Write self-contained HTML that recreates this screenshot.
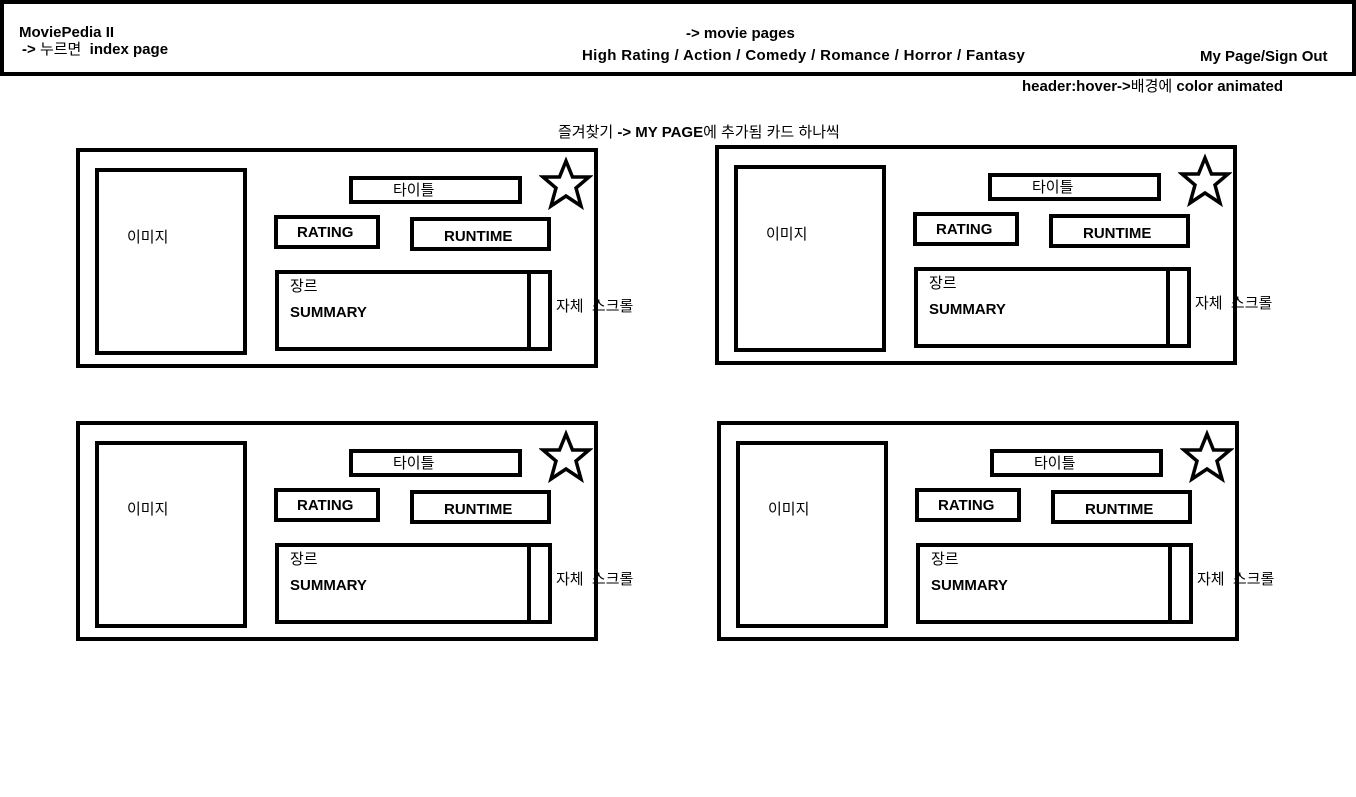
<!DOCTYPE html>
<html><head><meta charset="utf-8"><style>
body{margin:0;width:1356px;height:797px;background:#fff;position:relative;overflow:hidden;font-family:"Liberation Sans","Noto Sans CJK KR",sans-serif;font-weight:bold;color:#000}
.a{position:absolute;white-space:nowrap;font-size:15px;line-height:16px}
.b{position:absolute;border:4px solid #000;box-sizing:border-box}
.card{position:absolute;width:522px;height:220px}
.card .t{position:absolute;white-space:nowrap;font-size:15px;line-height:16px}
.card .n{font-weight:normal;font-size:15px}
</style></head><body>
<div class="b" style="left:0;top:0;width:1356px;height:76px"></div>
<div class="a" style="left:19px;top:25px">MoviePedia II</div>
<div class="a" style="left:22px;top:42px">-&gt; <span style="font-weight:normal">누르면</span>&nbsp; index page</div>
<div class="a" style="left:686px;top:26px">-&gt; movie pages</div>
<div class="a" style="left:582px;top:48px;letter-spacing:0.35px">High Rating / Action / Comedy / Romance / Horror / Fantasy</div>
<div class="a" style="left:1200px;top:49px">My Page/Sign Out</div>
<div class="a" style="left:1022px;top:79px">header:hover-&gt;<span style="font-weight:normal">배경에</span> color animated</div>
<div class="a" style="left:558px;top:125px"><span style="font-weight:normal">즐겨찾기</span> -&gt; MY PAGE<span style="font-weight:normal">에 추가됨 카드 하나씩</span></div>

<div class="card" style="left:76px;top:148px">
<div class="b" style="left:0;top:0;width:522px;height:220px"></div>
<div class="b" style="left:19px;top:20px;width:152px;height:187px"></div>
<div class="t n" style="left:51px;top:82px">이미지</div>
<div class="b" style="left:273px;top:28px;width:173px;height:28px"></div>
<div class="t n" style="left:317px;top:35px">타이틀</div>
<div class="b" style="left:198px;top:67px;width:106px;height:34px"></div>
<div class="t" style="left:221px;top:77px">RATING</div>
<div class="b" style="left:334px;top:69px;width:141px;height:34px"></div>
<div class="t" style="left:368px;top:81px">RUNTIME</div>
<div class="b" style="left:199px;top:122px;width:277px;height:81px"></div>
<div class="b" style="left:451px;top:122px;width:25px;height:81px"></div>
<div class="t n" style="left:214px;top:131px">장르</div>
<div class="t" style="left:214px;top:157px">SUMMARY</div>
<div class="t n" style="left:480px;top:151px">자체&nbsp; 스크롤</div>
<svg style="position:absolute;left:463px;top:8px" width="54" height="58" viewBox="-27 -29 54 58"><polygon points="0,-24 6.5,-8 23,-8 10,3 15,21 0,11 -15,21 -10,3 -23,-8 -6.5,-8" fill="none" stroke="#000" stroke-width="3.5"/></svg>
</div>

<div class="card" style="left:715px;top:145px">
<div class="b" style="left:0;top:0;width:522px;height:220px"></div>
<div class="b" style="left:19px;top:20px;width:152px;height:187px"></div>
<div class="t n" style="left:51px;top:82px">이미지</div>
<div class="b" style="left:273px;top:28px;width:173px;height:28px"></div>
<div class="t n" style="left:317px;top:35px">타이틀</div>
<div class="b" style="left:198px;top:67px;width:106px;height:34px"></div>
<div class="t" style="left:221px;top:77px">RATING</div>
<div class="b" style="left:334px;top:69px;width:141px;height:34px"></div>
<div class="t" style="left:368px;top:81px">RUNTIME</div>
<div class="b" style="left:199px;top:122px;width:277px;height:81px"></div>
<div class="b" style="left:451px;top:122px;width:25px;height:81px"></div>
<div class="t n" style="left:214px;top:131px">장르</div>
<div class="t" style="left:214px;top:157px">SUMMARY</div>
<div class="t n" style="left:480px;top:151px">자체&nbsp; 스크롤</div>
<svg style="position:absolute;left:463px;top:8px" width="54" height="58" viewBox="-27 -29 54 58"><polygon points="0,-24 6.5,-8 23,-8 10,3 15,21 0,11 -15,21 -10,3 -23,-8 -6.5,-8" fill="none" stroke="#000" stroke-width="3.5"/></svg>
</div>

<div class="card" style="left:76px;top:421px">
<div class="b" style="left:0;top:0;width:522px;height:220px"></div>
<div class="b" style="left:19px;top:20px;width:152px;height:187px"></div>
<div class="t n" style="left:51px;top:81px">이미지</div>
<div class="b" style="left:273px;top:28px;width:173px;height:28px"></div>
<div class="t n" style="left:317px;top:35px">타이틀</div>
<div class="b" style="left:198px;top:67px;width:106px;height:34px"></div>
<div class="t" style="left:221px;top:77px">RATING</div>
<div class="b" style="left:334px;top:69px;width:141px;height:34px"></div>
<div class="t" style="left:368px;top:81px">RUNTIME</div>
<div class="b" style="left:199px;top:122px;width:277px;height:81px"></div>
<div class="b" style="left:451px;top:122px;width:25px;height:81px"></div>
<div class="t n" style="left:214px;top:131px">장르</div>
<div class="t" style="left:214px;top:157px">SUMMARY</div>
<div class="t n" style="left:480px;top:151px">자체&nbsp; 스크롤</div>
<svg style="position:absolute;left:463px;top:8px" width="54" height="58" viewBox="-27 -29 54 58"><polygon points="0,-24 6.5,-8 23,-8 10,3 15,21 0,11 -15,21 -10,3 -23,-8 -6.5,-8" fill="none" stroke="#000" stroke-width="3.5"/></svg>
</div>

<div class="card" style="left:717px;top:421px">
<div class="b" style="left:0;top:0;width:522px;height:220px"></div>
<div class="b" style="left:19px;top:20px;width:152px;height:187px"></div>
<div class="t n" style="left:51px;top:81px">이미지</div>
<div class="b" style="left:273px;top:28px;width:173px;height:28px"></div>
<div class="t n" style="left:317px;top:35px">타이틀</div>
<div class="b" style="left:198px;top:67px;width:106px;height:34px"></div>
<div class="t" style="left:221px;top:77px">RATING</div>
<div class="b" style="left:334px;top:69px;width:141px;height:34px"></div>
<div class="t" style="left:368px;top:81px">RUNTIME</div>
<div class="b" style="left:199px;top:122px;width:277px;height:81px"></div>
<div class="b" style="left:451px;top:122px;width:25px;height:81px"></div>
<div class="t n" style="left:214px;top:131px">장르</div>
<div class="t" style="left:214px;top:157px">SUMMARY</div>
<div class="t n" style="left:480px;top:151px">자체&nbsp; 스크롤</div>
<svg style="position:absolute;left:463px;top:8px" width="54" height="58" viewBox="-27 -29 54 58"><polygon points="0,-24 6.5,-8 23,-8 10,3 15,21 0,11 -15,21 -10,3 -23,-8 -6.5,-8" fill="none" stroke="#000" stroke-width="3.5"/></svg>
</div>
</body></html>
